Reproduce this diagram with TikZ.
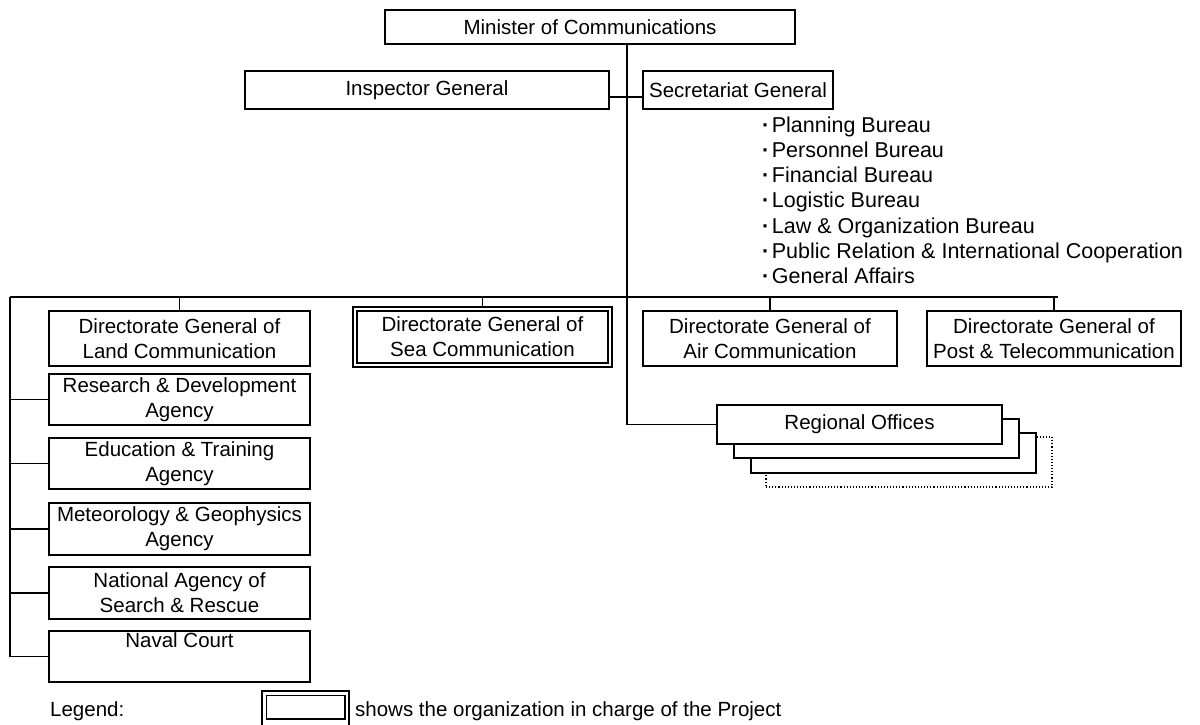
\documentclass[tikz,border=0pt]{standalone}
\usepackage{fontspec}
\setmainfont{Liberation Sans}
\begin{document}
\begin{tikzpicture}[x=1pt,y=-1pt,
  every node/.style={font=\fontsize{20.5}{25}\selectfont},
  box/.style={draw,line width=1.8pt,fill=white,inner sep=0pt,align=center},
  stackbox/.style={draw,line width=1.1pt,fill=white,inner sep=0pt,align=center},
  conn/.style={line width=1.2pt},
  bul/.style={anchor=base west,inner sep=0pt,font=\fontsize{21.5}{25}\selectfont}]
\useasboundingbox (0,0) rectangle (1200,725);

% top
\node[box,minimum width=410pt,minimum height=34pt] (min) at (590,27) {Minister of Communications};
\coordinate (t) at (627,44);
\node[box,minimum width=364pt,minimum height=38pt] (insp) at (427,90) {Inspector General};
\node[box,minimum width=190pt,minimum height=38pt] (sec) at (738,90) {Secretariat General};
\draw[conn] (insp.east |- 0,97) -- (sec.west |- 0,97);

% bullets
\foreach \y/\t in {132/Planning Bureau,157/Personnel Bureau,182/Financial Bureau,207/Logistic Bureau,233/Law \& Organization Bureau,258/Public Relation \& International Cooperation,283/General Affairs}
  \node[bul] at (762,\y) {{\bfseries ·}\hspace{2.5pt}\t};

% bus
\coordinate (bl) at (10,297);
\coordinate (br) at (1058,297);
\draw[conn] (bl) -- (br);

% directorates
\node[box,minimum width=261pt,minimum height=55pt] (land) at (179.5,338.5) {Directorate General of\\Land Communication};
\node[draw,line width=1.1pt,fill=white,inner sep=0pt,minimum width=259pt,minimum height=60pt,align=center] (sea) at (482.5,337) {Directorate General of\\Sea Communication};
\draw[line width=1.8pt] ([shift={(4.5,4.5)}]sea.north west) rectangle ([shift={(-4.5,-4.5)}]sea.south east);
\node[box,minimum width=254pt,minimum height=55pt] (air) at (770,338.5) {Directorate General of\\Air Communication};
\node[box,minimum width=254pt,minimum height=55pt] (post) at (1054,338.5) {Directorate General of\\Post \& Telecommunication};
\foreach \n in {land,sea,air,post} \draw[conn] (\n.north |- bl) -- (\n.north);

% trunk
\draw[conn] (t) -- (t |- bl);

% left column
\node[box,minimum width=261pt,minimum height=51pt] (rd) at (179.5,399.5) {Research \& Development\\Agency};
\node[box,minimum width=261pt,minimum height=51pt] (edu) at (179.5,463.5) {Education \& Training\\Agency};
\node[box,minimum width=261pt,minimum height=52pt] (met) at (179.5,529) {Meteorology \& Geophysics\\Agency};
\node[box,minimum width=261pt,minimum height=52pt] (sar) at (179.5,593) {National Agency of\\Search \& Rescue};
\node[box,minimum width=261pt,minimum height=51pt] (naval) at (179.5,656.5) {Naval Court\\\strut};
\coordinate (lb) at (10,656.5);
\draw[conn] (bl) -- (lb) -- (naval.west);
\foreach \n in {rd,edu,met,sar} \draw[conn] (\n.west -| bl) -- (\n.west);

% regional offices
\node[stackbox,dotted,minimum width=286pt,minimum height=50pt] (ro4) at (909,462) {};
\node[stackbox,minimum width=285pt,minimum height=40pt] (ro3) at (893.5,453) {};
\node[stackbox,minimum width=285pt,minimum height=39pt] (ro2) at (876.5,438.5) {};
\node[stackbox,minimum width=285pt,minimum height=39pt] (ro) at (859.5,424.5) {Regional Offices};
\draw[conn] (t |- bl) |- (ro.west);

% legend
\node[anchor=west,inner sep=0pt] (leg) at (50,711) {Legend:};
\node[draw,line width=1.2pt,inner sep=0pt,minimum width=87pt,minimum height=36pt] (legbox) at (305.5,709) {};
\draw[line width=1.8pt] ([shift={(5,5)}]legbox.north west) rectangle ([shift={(-5,-9)}]legbox.south east);
\node[anchor=west,inner sep=0pt] (legt) at (355,711) {shows the organization in charge of the Project};
\end{tikzpicture}
\end{document}
